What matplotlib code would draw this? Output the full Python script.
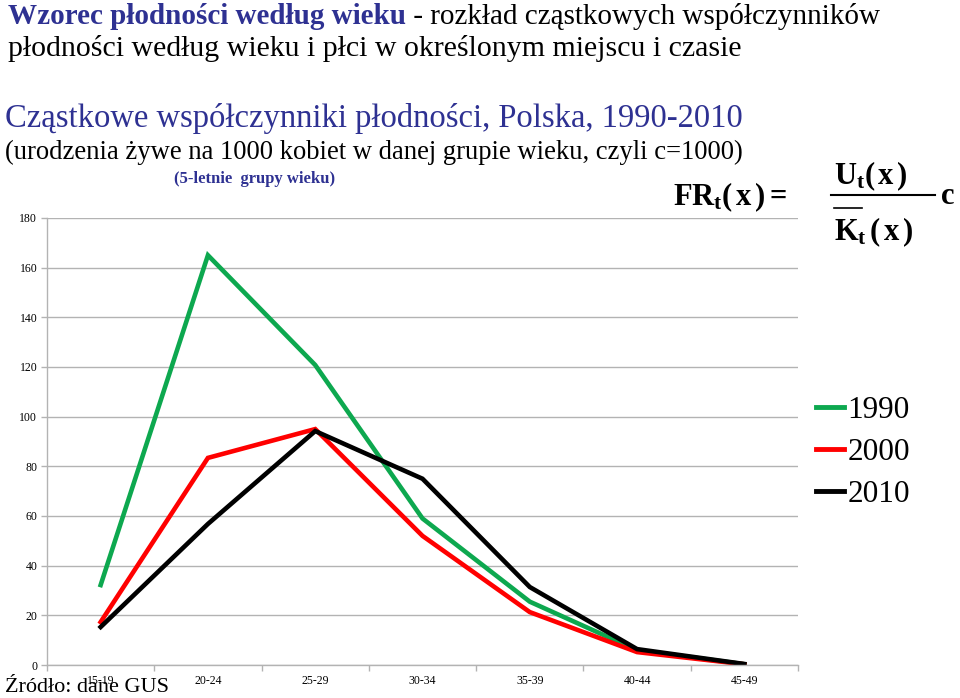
import numpy as np
import matplotlib.pyplot as plt

plt.rcParams["font.family"] = ["Liberation Serif", "DejaVu Serif"]
plt.rcParams["mathtext.fontset"] = "custom"
plt.rcParams["mathtext.rm"] = "Liberation Serif"
plt.rcParams["mathtext.bf"] = "Liberation Serif:bold"
plt.rcParams["mathtext.it"] = "Liberation Serif:italic"

age_groups = ["15-19", "20-24", "25-29", "30-34", "35-39", "40-44", "45-49"]
rates_1990 = [32.2, 165.0, 120.8, 59.0, 25.5, 6.0, 0.3]
rates_2000 = [17.3, 83.4, 95.0, 52.0, 21.3, 5.2, 0.3]
rates_2010 = [15.3, 56.8, 94.2, 75.0, 31.4, 6.4, 0.4]
years = ["1990", "2000", "2010"]
y_ticks = [0, 20, 40, 60, 80, 100, 120, 140, 160, 180]

GREEN = "#0DA84F"
RED = "#FF0000"
BLACK = "#000000"
BLUE = "#2E3192"
GRID = "#B3B3B3"

fig = plt.figure(figsize=(9.6, 6.98), dpi=100)
ax = fig.add_axes([47 / 960, 1 - 665 / 698, (798 - 47) / 960, (665 - 218) / 698])

x = np.arange(len(age_groups))
lw = 3.3
for vals, col, lab in zip([rates_1990, rates_2000, rates_2010], [GREEN, RED, BLACK], years):
    ax.plot(x, vals, color=col, lw=lw, label=lab, solid_joinstyle="miter")

ax.set_xlim(-0.5, len(age_groups) - 0.5)
ax.set_ylim(0, 180)
ax.set_yticks(y_ticks)
ax.set_yticklabels([str(v) for v in y_ticks], fontsize=8.5)
ax.set_xticks(x)
ax.set_xticklabels(age_groups, fontsize=8.5)
ax.set_xticks(np.arange(len(age_groups) + 1) - 0.5, minor=True)
ax.tick_params(axis="x", which="major", length=0, pad=7)
ax.tick_params(axis="x", which="minor", length=4, color=GRID, width=1)
ax.tick_params(axis="y", length=4, color=GRID, width=1, pad=3)
ax.grid(axis="y", color=GRID, lw=1)
ax.set_axisbelow(True)
for s in ["top", "right"]:
    ax.spines[s].set_visible(False)
for s in ["left", "bottom"]:
    ax.spines[s].set_color(GRID)
    ax.spines[s].set_linewidth(1)

leg = fig.legend(loc="upper left", bbox_to_anchor=(816 / 960, 1 - 396 / 698),
                 frameon=False, fontsize=22.5, handlelength=0.9, handletextpad=0.1,
                 labelspacing=0.42, borderpad=0, borderaxespad=0)
for h in leg.get_lines():
    h.set_linewidth(3.5)

# titles
t1 = fig.text(8 / 960, 1 - 16 / 698, "Wzorec płodności według wieku", fontsize=21,
              fontweight="bold", color=BLUE, va="center", ha="left")
fig.canvas.draw()
bb = t1.get_window_extent()
fig.text(bb.x1 / 960, 1 - 16 / 698, " - rozkład cząstkowych współczynników", fontsize=21,
         color="black", va="center", ha="left")
fig.text(8 / 960, 1 - 48 / 698, "płodności według wieku i płci w określonym miejscu i czasie",
         fontsize=21.5, color="black", va="center", ha="left")
fig.text(5 / 960, 1 - 119 / 698, "Cząstkowe współczynniki płodności, Polska, 1990-2010",
         fontsize=23.5, color=BLUE, va="center", ha="left")
fig.text(5 / 960, 1 - 152 / 698,
         "(urodzenia żywe na 1000 kobiet w danej grupie wieku, czyli c=1000)",
         fontsize=19.2, color="black", va="center", ha="left")
fig.text(255 / 960, 1 - 179 / 698, "(5-letnie  grupy wieku)", fontsize=12,
         fontweight="bold", color=BLUE, va="center", ha="center")

# formula
fig.text(673 / 960, 1 - 197 / 698, r"$\mathbf{FR_t(\,x\,) =}$", fontsize=22,
         va="center", ha="left")
fig.text(834 / 960, 1 - 176 / 698, r"$\mathbf{U_t(\,x\,)}$", fontsize=22,
         va="center", ha="left")
fig.text(834 / 960, 1 - 232 / 698, r"$\mathbf{K_t\,(\,x\,)}$", fontsize=22,
         va="center", ha="left")
fig.add_artist(plt.Line2D([831 / 960, 935 / 960], [1 - 195 / 698, 1 - 195 / 698],
                          color="black", lw=1.5))
fig.add_artist(plt.Line2D([834 / 960, 862 / 960], [1 - 208 / 698, 1 - 208 / 698],
                          color="black", lw=1.2))
fig.text(940 / 960, 1 - 197 / 698, r"$\mathbf{c}$", fontsize=22, va="center", ha="left")

fig.text(5 / 960, 1 - 687 / 698, "Źródło: dane GUS", fontsize=16, color="black",
         va="center", ha="left")

fig.savefig("out.png", dpi=100)
